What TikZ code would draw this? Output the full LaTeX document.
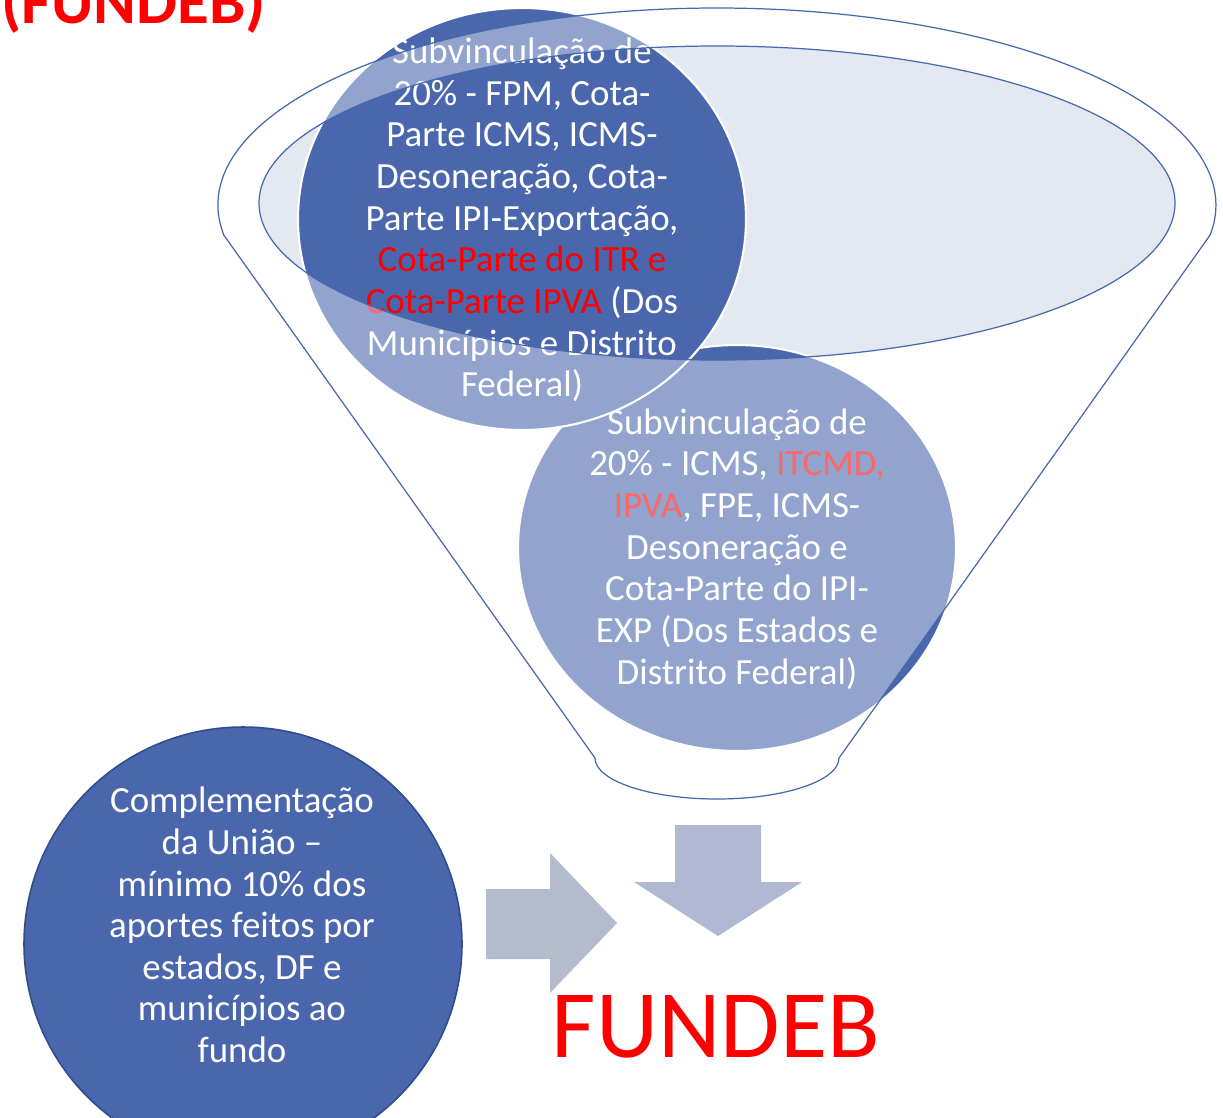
\documentclass[tikz,border=0pt]{standalone}
\usepackage{fontspec}
\setmainfont{Carlito}
\usepackage{tikz}

\definecolor{azulbola}{HTML}{4A66AC}
\definecolor{linhafunil}{HTML}{4668B0}
\definecolor{bocafunil}{HTML}{E4E8F1}
\definecolor{bordauniao}{HTML}{2F4E8C}
\definecolor{setabaixo}{HTML}{B0B8D3}
\definecolor{setalado}{HTML}{B2BCCC}

\begin{document}
\begin{tikzpicture}[x=0.2mm, y=0.2mm,
        bola/.style={fill=azulbola, draw=white, line width=1.2pt},
        textobola/.style={text=white, align=center, inner sep=0pt, font=\fontsize{21}{23.7}\selectfont},
        funil/.style={fill=white, fill opacity=0.4, even odd rule, draw=linhafunil, line width=0.7pt}]
        \useasboundingbox (0, 0) rectangle (1223, -1117);
        \fill[white] (0, 0) rectangle (1223, -1117);

        \fill[bocafunil] (717, -203) ellipse [x radius=458, y radius=157];

        \path[bola] (737, -548) ellipse [x radius=219, y radius=203];
        \node[textobola] (estados) at (737, -549) {Subvinculação de\\20\% - ICMS, {\color{red}ITCMD,}\\{\color{red}IPVA}, FPE, ICMS-\\Desoneração e\\Cota-Parte do IPI-\\EXP (Dos Estados e\\Distrito Federal)};

        \path[bola] (522, -219) ellipse [x radius=224, y radius=211];
        \node[textobola] (municipios) at (522, -220) {Subvinculação de\\20\% - FPM, Cota-\\Parte ICMS, ICMS-\\Desoneração, Cota-\\Parte IPI-Exportação,\\{\color{red}Cota-Parte do ITR e}\\{\color{red}Cota-Parte IPVA} (Dos\\Municípios e Distrito\\Federal)};

        \path[funil] (223.8, -235) arc[start angle=188.76, end angle=-8.76, x radius=499, y radius=197] -- (839, -758)
                arc[start angle=0, end angle=-180, x radius=122, y radius=41] -- cycle
                (717, -203) ellipse [x radius=458, y radius=157];

        \path[fill=azulbola, draw=bordauniao, line width=0.9pt] (243, -944) ellipse [x radius=219, y radius=217];
        \node[textobola] (uniao) at (242, -925) {Complementação\\da União –\\mínimo 10\% dos\\aportes feitos por\\estados, DF e\\municípios ao\\fundo};

        \fill[setabaixo] (675, -825) -- (761, -825) -- (761, -882) -- (802, -882) -- (718, -936) -- (634, -882) -- (675, -882) -- cycle;
        \fill[setalado] (486, -889) -- (550, -889) -- (550, -853) -- (617, -923) -- (550, -993) -- (550, -959) -- (486, -959) -- cycle;

        \node[anchor=base, inner sep=0pt, text=red, font=\fontsize{55}{60}\selectfont] (fundeb) at (716, -1057) {FUNDEB};
        \node[anchor=base west, inner sep=0pt, text=red, font=\fontsize{37}{42}\selectfont\bfseries] (titulo) at (1, -24) {(FUNDEB)};

    \end{tikzpicture}
\end{document}
